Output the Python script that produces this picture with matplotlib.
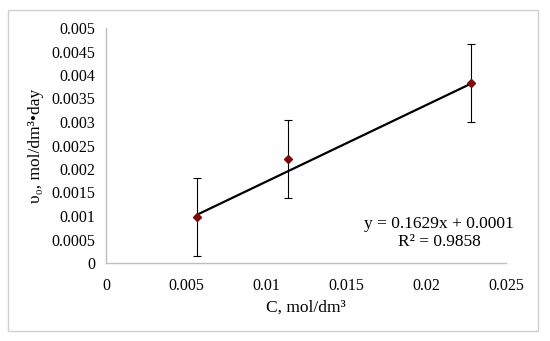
import matplotlib.pyplot as plt
import numpy as np

plt.rcParams.update({
    'font.family': 'Liberation Serif', 'font.size': 11,
})

# data
conc = [0.0057, 0.0114, 0.0228]
rate = [0.00097, 0.00221, 0.00382]
err = [0.00083, 0.00083, 0.00083]
slope, intercept = 0.1629, 0.0001
xticks = [0, 0.005, 0.01, 0.015, 0.02, 0.025]
yticks = [0, 0.0005, 0.001, 0.0015, 0.002, 0.0025, 0.003, 0.0035, 0.004, 0.0045, 0.005]

fig = plt.figure(figsize=(5.5, 3.41), dpi=100)
ax = fig.add_axes([106/550, 1 - 263/341, 400/550, 235/341])

# outer frame
fig.patches.append(plt.Rectangle((8/550, 1 - 331/341), 530/550, 321/341,
                                 transform=fig.transFigure, fill=False,
                                 edgecolor='#d0d0d0', linewidth=1))

ax.errorbar(conc, rate, yerr=err, fmt='none', ecolor='black',
            elinewidth=0.8, capsize=3, capthick=0.8, zorder=2)
xfit = np.array([conc[0], conc[-1]])
ax.plot(xfit, slope * xfit + intercept, color='black', linewidth=1.6, zorder=3)
ax.plot(conc, rate, linestyle='none', marker='D', markersize=4.5,
        color='#7b0c0c', zorder=4)

ax.set_xlim(0, 0.025)
ax.set_ylim(0, 0.005)
ax.set_xticks(xticks)
ax.set_xticklabels([f'{v:g}' for v in xticks])
ax.set_yticks(yticks)
ax.set_yticklabels([f'{v:g}' for v in yticks])
ax.tick_params(axis='y', length=0, labelsize=11.5, pad=8)
ax.tick_params(axis='x', length=0, labelsize=11.5, pad=11)
for s in ['top', 'right']:
    ax.spines[s].set_visible(False)
for s in ['left', 'bottom']:
    ax.spines[s].set_color('#bfbfbf')
    ax.spines[s].set_linewidth(1)

ax.set_xlabel('C, mol/dm³', fontsize=12.5, labelpad=4)
ax.set_ylabel('υ₀, mol/dm³•day', fontsize=12.5, labelpad=5)

ax.text(0.8325, 0.128, f'y = {slope}x + {intercept}\nR² = 0.9858',
        transform=ax.transAxes, ha='center', va='center', fontsize=12.5,
        linespacing=1.15)

fig.savefig('out.png', dpi=100)
